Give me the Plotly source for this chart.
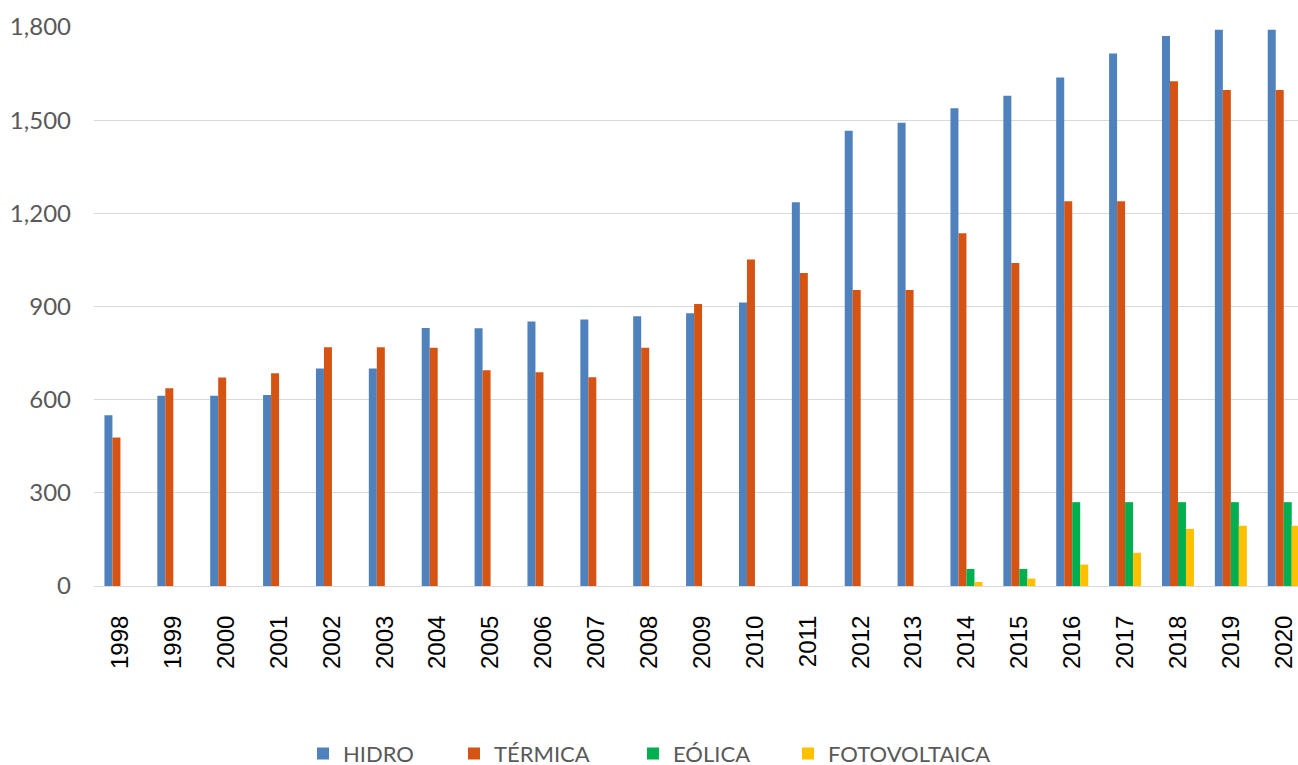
import plotly.graph_objects as go

years = [str(y) for y in range(1998, 2021)]
hidro = [550, 613, 613, 615, 700, 700, 831, 830, 852, 858, 869, 878, 913, 1236, 1466,
         1492, 1538, 1579, 1637, 1715, 1771, 1791, 1791]
termica = [478, 637, 671, 685, 769, 769, 767, 695, 688, 672, 767, 908, 1051, 1008, 953,
           953, 1136, 1040, 1239, 1239, 1625, 1597, 1597]
# 1998..2013 have no wind / solar
eolica = [None] * 16 + [55, 55, 270, 270, 270, 270, 270]
fotovoltaica = [None] * 16 + [13, 24, 69, 107, 184, 194, 194]

series = [
    ("HIDRO", hidro, "#4F81BD"),
    ("TÉRMICA", termica, "#D55414"),
    ("EÓLICA", eolica, "#00B050"),
    ("FOTOVOLTAICA", fotovoltaica, "#FFC000"),
]

L, R_EDGE = 94, 1298
plot_w = R_EDGE - L
# legend icon centres in pixels
legend_px = [323, 474, 653, 808]
legend_ids = ["legend", "legend2", "legend3", "legend4"]

fig = go.Figure()
for (name, vals, col), lid in zip(series, legend_ids):
    fig.add_trace(go.Bar(x=years, y=vals, name=name, marker_color=col,
                         marker_line_width=0, legend=lid))

font = "Lato, Open Sans, sans-serif"
leg_font = dict(family=font, size=22, color="#595959")
layout_legends = {}
for lid, px in zip(legend_ids, legend_px):
    layout_legends[lid] = dict(orientation="h", x=(px - 20 - L) / plot_w, xanchor="left",
                               y=-0.3, yanchor="middle", font=leg_font,
                               bgcolor="rgba(0,0,0,0)", borderwidth=0)

fig.update_layout(
    template="none",
    width=1298, height=765,
    margin=dict(l=L, r=0, t=27, b=179, autoexpand=False),
    plot_bgcolor="white", paper_bgcolor="white",
    barmode="group", bargap=0.395, bargroupgap=0,
    font=dict(family=font, size=22, color="#595959"),
    showlegend=True,
    **layout_legends,
)
fig.update_xaxes(type="category", range=[-0.5, 22.27], tickangle=-90, automargin=False,
                 tickfont=dict(family="Liberation Sans, Arial, sans-serif", size=24,
                               color="#000000"),
                 showgrid=False, showline=True, linecolor="#d9d9d9", linewidth=1,
                 ticks="", ticklabelstandoff=19)
fig.update_yaxes(range=[0, 1800], tickvals=[0, 300, 600, 900, 1200, 1500, 1800],
                 tickformat=",", showgrid=True, gridcolor="#d9d9d9", gridwidth=1,
                 zeroline=False, ticks="", showline=False, automargin=False,
                 ticklabelstandoff=22,
                 tickfont=dict(family=font, size=24, color="#595959"))

fig.write_html("out.html", config={"displayModeBar": False},
               post_script="document.body.style.margin='0';document.body.style.overflow='hidden';")
